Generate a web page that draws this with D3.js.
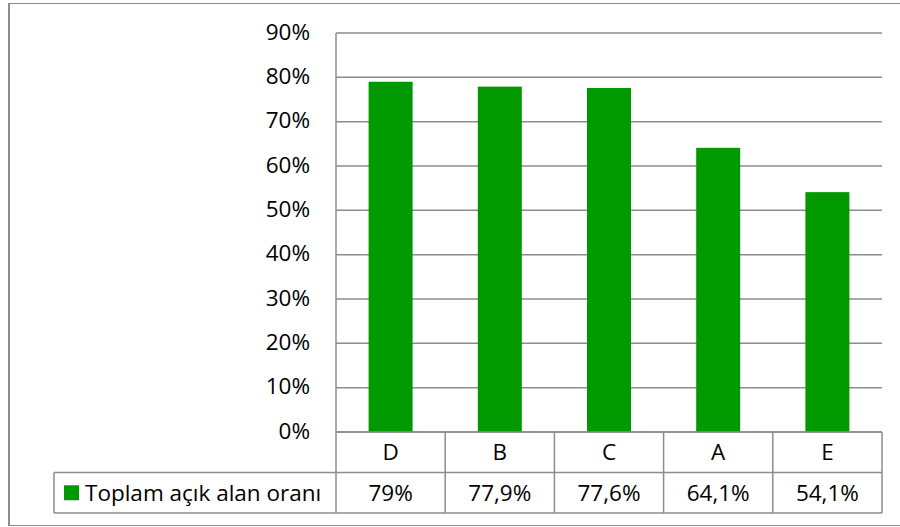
<!DOCTYPE html>
<html>
<head>
<meta charset="utf-8">
<script src="https://cdn.jsdelivr.net/npm/d3@7/dist/d3.min.js"></script>
<style>
  html, body { margin: 0; padding: 0; background: #fff; }
  svg { display: block; }
  text { font-family: "Open Sans", "Noto Sans", sans-serif; fill: #000; }
</style>
</head>
<body>
<svg id="chart" width="900" height="527"></svg>
<script>
// Data
const categories = ["D", "B", "C", "A", "E"];
const values = [79, 77.9, 77.6, 64.1, 54.1];
const valueLabels = ["79%", "77,9%", "77,6%", "64,1%", "54,1%"];
const seriesName = "Toplam açık alan oranı";
const yTicks = [0, 10, 20, 30, 40, 50, 60, 70, 80, 90];

const svg = d3.select("#chart");
const W = 900, H = 527;

// Layout
const plot = { left: 336, right: 882, top: 33, bottom: 432 };
const rowH = 40.5;
const legendLeft = 54;
const gridColor = "#8c8c8c";
const barColor = "#009900";
const fontSize = 22.5;

// Outer frame
svg.append("line").attr("x1", 9).attr("x2", 9).attr("y1", 3).attr("y2", 526)
  .attr("stroke", "#8c8c8c").attr("stroke-width", 2);
svg.append("line").attr("x1", 9).attr("x2", W).attr("y1", 3.5).attr("y2", 3.5)
  .attr("stroke", "#8c8c8c").attr("stroke-width", 1);
svg.append("line").attr("x1", 9).attr("x2", W).attr("y1", 525.5).attr("y2", 525.5)
  .attr("stroke", "#8c8c8c").attr("stroke-width", 1);

const x = d3.scaleBand().domain(categories).range([plot.left, plot.right]).paddingInner(0).paddingOuter(0);
const y = d3.scaleLinear().domain([0, 90]).range([plot.bottom, plot.top]);

// Gridlines
svg.append("g").selectAll("line").data(yTicks).join("line")
  .attr("x1", plot.left).attr("x2", plot.right)
  .attr("y1", d => y(d)).attr("y2", d => y(d))
  .attr("stroke", gridColor).attr("stroke-width", 1.5);

// Vertical axis line
svg.append("line").attr("x1", plot.left).attr("x2", plot.left)
  .attr("y1", plot.top).attr("y2", plot.bottom + 2 * rowH)
  .attr("stroke", gridColor).attr("stroke-width", 1.5);

// Y tick labels
svg.append("g").selectAll("text").data(yTicks).join("text")
  .attr("x", 310).attr("y", d => y(d))
  .attr("dy", "0.3em")
  .attr("text-anchor", "end")
  .attr("font-size", fontSize)
  .text(d => d + "%");

// Bars
const barW = 44;
svg.append("g").selectAll("rect").data(values).join("rect")
  .attr("x", (d, i) => x(categories[i]) + x.bandwidth() / 2 - barW / 2)
  .attr("width", barW)
  .attr("y", d => y(d))
  .attr("height", d => y(0) - y(d))
  .attr("fill", barColor);

// Data table
const row1Top = plot.bottom, row2Top = plot.bottom + rowH, row2Bot = plot.bottom + 2 * rowH;
const tbl = svg.append("g").attr("stroke", gridColor).attr("stroke-width", 1.5);
tbl.append("line").attr("x1", plot.left).attr("x2", plot.right).attr("y1", row1Top).attr("y2", row1Top);
tbl.append("line").attr("x1", legendLeft).attr("x2", plot.right).attr("y1", row2Top).attr("y2", row2Top);
tbl.append("line").attr("x1", legendLeft).attr("x2", plot.right).attr("y1", row2Bot).attr("y2", row2Bot);
tbl.append("line").attr("x1", legendLeft).attr("x2", legendLeft).attr("y1", row2Top).attr("y2", row2Bot);
tbl.selectAll("line.col").data(categories).join("line").attr("class", "col")
  .attr("x1", d => x(d) + x.bandwidth()).attr("x2", d => x(d) + x.bandwidth())
  .attr("y1", row1Top).attr("y2", row2Bot);

// Category labels
svg.append("g").selectAll("text").data(categories).join("text")
  .attr("x", d => x(d) + x.bandwidth() / 2)
  .attr("y", row1Top + rowH / 2).attr("dy", "0.35em")
  .attr("text-anchor", "middle").attr("font-size", fontSize)
  .text(d => d);

// Value labels
svg.append("g").selectAll("text").data(valueLabels).join("text")
  .attr("x", (d, i) => x(categories[i]) + x.bandwidth() / 2)
  .attr("y", row2Top + rowH / 2).attr("dy", "0.35em")
  .attr("text-anchor", "middle").attr("font-size", fontSize)
  .text(d => d);

// Legend key
svg.append("rect").attr("x", 64).attr("y", row2Top + rowH / 2 - 7.5)
  .attr("width", 15).attr("height", 15).attr("fill", barColor);
svg.append("text").attr("x", 85).attr("y", row2Top + rowH / 2).attr("dy", "0.35em")
  .attr("font-size", fontSize).text(seriesName);
</script>
</body>
</html>
